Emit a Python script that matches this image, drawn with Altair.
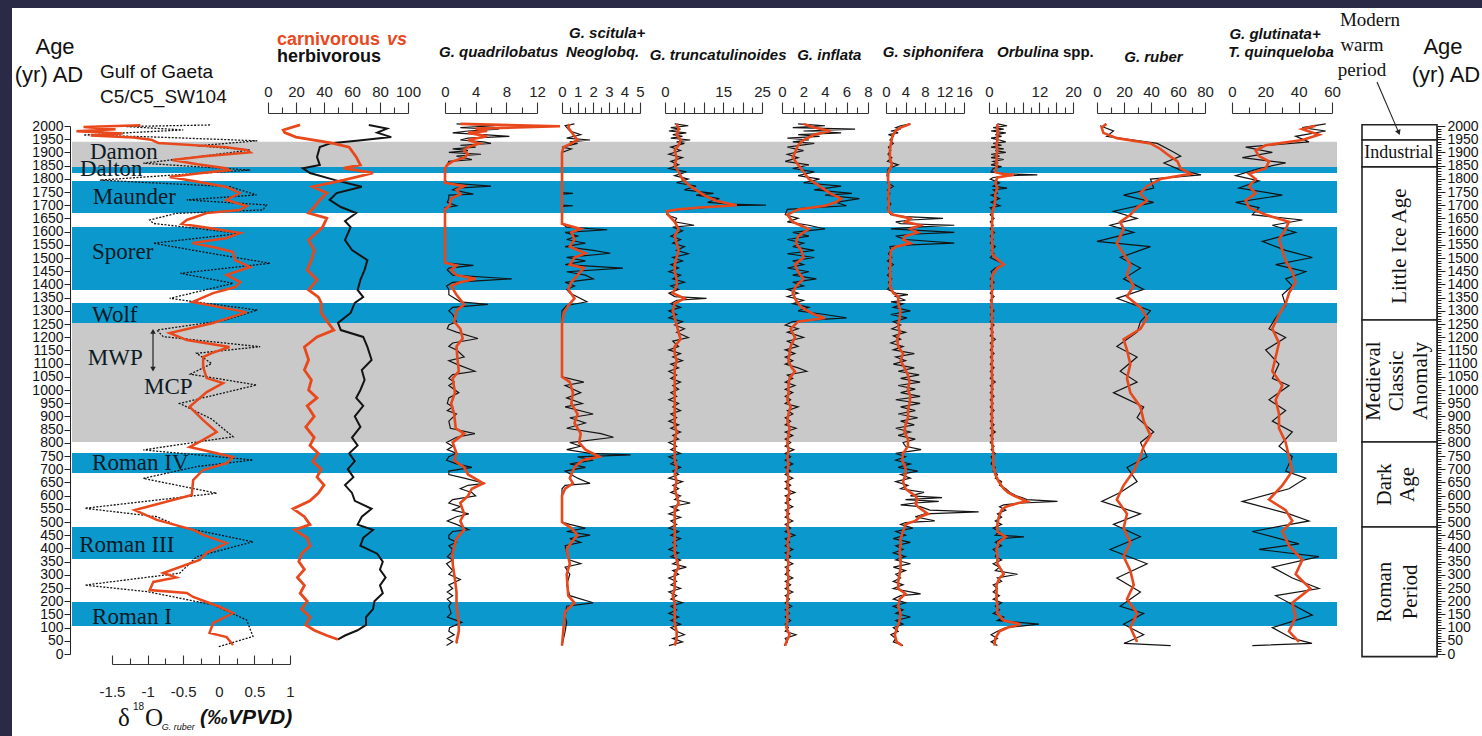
import altair as alt
import pandas as pd

SANS = "Liberation Sans, Arial, Helvetica, sans-serif"
SERIF = "Liberation Serif, Times New Roman, serif"
RED = "#e9481c"
BLACK = "#141414"
BLUE = "#0b98cd"
GREY = "#c9c9c9"
TXT = "#0d1a24"
BG = "#2a2a46"

W, H = 1470, 728
Y_RANGE = [646, 118]          # age 0 -> 2000 inside the plot area

# ---------------- data (age AD, value) ----------------
D18_RED = [(2003,-1.1),(1996,-1.9),(1988,-1.45),(1980,-2.0),(1972,-1.35),(1964,-1.8),(1956,-1.2),(1948,-0.95),
           (1936,-0.85),(1920,0.1),(1909,0.39),(1900,0.44),(1885,-0.2),(1871,-0.65),(1855,-0.3),(1840,0.1),
           (1833,0.15),(1820,-0.3),(1807,-0.69),(1788,-0.27),(1769,0.11),(1746,0.29),(1720,0.11),(1697,0.39),
           (1682,0.29),(1670,-0.17),(1644,-0.45),(1629,-0.52),(1614,-0.13),(1595,0.3),(1575,0.1),(1557,-0.37),
           (1540,-0.05),(1523,0.2),(1492,0.23),(1466,0.44),(1436,0.11),(1409,0.3),(1390,0.23),(1367,-0.08),
           (1333,-0.37),(1295,0.39),(1254,-0.08),(1216,-0.69),(1189,-0.45),(1163,0.15),(1140,-0.1),(1125,-0.22),
           (1087,-0.22),(1045,-0.17),(1026,0.06),(992,-0.17),(936,-0.41),(886,-0.22),(841,-0.03),(811,-0.22),
           (784,-0.41),(746,0.2),(723,0.11),(697,-0.22),(659,-0.36),(602,-0.38),(545,-1.18),(508,-0.87),
           (470,-0.36),(451,-0.22),(420,0.11),(383,-0.17),(356,-0.27),(307,-0.78),(290,-0.6),(273,-0.92),
           (242,-0.97),(231,-0.45),(216,-0.36),(178,0.02),(155,0.2),(117,-0.08),(80,-0.13),(64,0.11),(34,0.2)]
D18_RAW = [(2004,-0.1),(1998,-1.3),(1985,-0.5),(1966,-1.9),(1958,-0.87),(1944,0.54),(1925,-0.3),(1909,0.44),
           (1880,-0.4),(1859,-1.06),(1833,0.44),(1815,-0.6),(1795,-1.67),(1770,0.16),(1739,0.53),(1720,-0.45),
           (1701,0.67),(1682,0.62),(1669,-0.6),(1644,-0.97),(1631,-0.92),(1593,0.3),(1556,-0.92),(1518,-0.12),
           (1480,0.72),(1442,-0.54),(1404,0.2),(1347,-0.69),(1303,0.54),(1265,0.1),(1227,-0.87),(1202,-0.78),
           (1164,0.58),(1139,-0.31),(1100,-0.1),(1060,-0.4),(1019,0.53),(949,-0.55),(890,-0.1),(823,0.2),
           (773,-1.06),(735,0.48),(710,-0.31),(665,-1.06),(609,-0.03),(552,-1.88),(520,-0.87),(482,-0.55),
           (425,0.48),(369,-0.31),(306,-0.55),(261,-1.88),(236,-1.0),(186,-0.08),(129,0.39),(66,0.48),(28,0.0)]

CARN = [(2004,22.9),(1985,10.9),(1975,12),(1958,20),(1935,46),(1920,58),(1883,63),(1852,66),(1840,54),(1822,75),
        (1795,54),(1770,32),(1746,42),(1720,37),(1693,33),(1670,29),(1651,42),(1617,39),(1568,29),(1530,33),
        (1492,31),(1455,28),(1417,35),(1379,29),(1352,36),(1330,38),(1292,38),(1254,43),(1227,47),(1201,35),
        (1163,26),(1114,29),(1076,26),(1038,31),(1000,29),(970,35),(940,28),(900,33),(860,27),(820,33),(790,30),
        (760,36),(730,32),(700,38),(670,35),(640,40),(610,36),(580,30),(550,18),(520,26),(490,30),(470,19),
        (440,28),(410,30),(380,24),(350,22),(320,26),(290,21),(260,26),(230,23),(200,28),(170,24),(140,30),
        (110,27),(90,33),(70,42),(55,50)]
HERB = [(2004,72),(1990,85),(1975,78),(1958,88),(1945,65),(1935,45),(1920,37),(1883,35),(1852,37),(1840,25),
        (1822,30),(1795,48),(1770,67),(1746,49),(1720,44),(1693,52),(1670,63),(1640,55),(1617,59),(1568,55),
        (1530,60),(1492,71),(1455,69),(1417,66),(1379,64),(1352,68),(1330,62),(1292,59),(1254,50),(1227,52),
        (1201,68),(1163,71),(1114,74),(1076,67),(1038,69),(1000,66),(970,63),(940,68),(900,62),(860,66),
        (820,60),(790,64),(760,58),(730,62),(700,57),(670,61),(640,55),(610,60),(580,62),(550,74),(520,67),
        (490,64),(470,75),(440,68),(410,66),(380,78),(350,82),(320,80),(290,84),(260,80),(230,82),(200,76),
        (170,75),(140,70),(110,70),(90,64),(70,55),(55,50)]

QUAD_RAW = [(2008,1.5),(2001,6.5),(1994,2),(1988,7),(1981,3),(1974,1),(1967,5),(1961,8.4),(1954,3),(1947,2),
            (1940,5),(1934,6),(1927,2),(1920,4),(1913,1),(1907,3),(1900,0.5),(1893,4.7),(1886,1.5),(1873,3.5),
            (1866,0.5),(1853,0.3),(1839,0),(1799,0),(1785,0.2),(1772,6),(1765,1.5),(1758,1),(1742,3.7),(1738,0.5),
            (1725,0.5),(1711,0.3),(1698,1.5),(1691,0),(1482,0),(1472,3.7),(1462,0.5),(1455,0.3),(1435,1),
            (1421,8.7),(1408,1),(1394,0.2),(1381,0.5),(1361,0.5),(1334,2),(1324,5.6),(1313,1),(1300,0.5),
            (1286,1),(1259,1.5),(1246,0.5),(1232,0.3),(1219,1.5),(1195,4.3),(1178,1),(1165,0.5),(1152,1.5),
            (1125,2.5),(1111,0.5),(1098,1.5),(1071,3.9),(1058,1),(1044,0.5),(1030,1.2),(1017,0.5),(990,1.8),
            (970,0.5),(949,0.3),(936,1),(922,0.3),(909,1.5),(882,0.5),(855,0.7),(835,3.9),(821,1.5),(801,0.2),
            (787,1),(774,0.3),(760,1.5),(747,0.5),(734,0.2),(720,1.5),(707,3.5),(693,0.5),(680,0.5),(666,2.5),
            (646,5.2),(639,3),(626,2),(612,3.5),(599,4),(585,1),(572,0.5),(558,2),(545,1),(531,3.1),(520,1.5),
            (504,0.3),(491,1.5),(471,3.1),(464,1),(450,0.5),(437,0.5),(423,1.5),(410,0.5),(396,1),(383,0.8),
            (369,0.3),(356,1),(342,0.2),(316,1),(302,0.5),(282,2),(262,0.5),(248,1),(235,0.3),(221,1),(208,0.3),
            (194,0.8),(181,0.5),(154,0.8),(140,0.3),(120,2.2),(100,0.6),(86,0.5),(73,1.2),(59,0.3),(46,1.0),(32,0.2)]
QUAD_SM = [(2008,2),(1999,15),(1990,4),(1981,5.5),(1974,3),(1961,5.5),(1947,3),(1934,4.5),(1920,3),(1907,2.5),
           (1893,3),(1880,2.5),(1866,1),(1853,0.3),(1839,0),(1785,0),(1772,2.5),(1758,1.5),(1742,2),(1725,0.8),
           (1698,0.6),(1684,0),(1482,0),(1472,1.5),(1455,0.8),(1435,1.5),(1421,4),(1408,2),(1394,0.8),(1361,1.5),
           (1324,2.5),(1300,1.5),(1259,1.2),(1232,2),(1195,2.3),(1165,1.5),(1125,1.6),(1071,1.8),(1044,1),
           (990,1.3),(949,0.8),(909,1.2),(855,1.4),(835,2.5),(801,1),(760,1.5),(734,1.2),(707,2.5),(680,3),
           (646,5),(626,3.5),(599,3),(572,2),(531,2.5),(504,2),(471,2.5),(437,1.5),(383,1),(342,1),(282,1.3),
           (235,1.5),(181,1.5),(120,1.8),(86,1.8),(46,1.5),(40,1.6)]

SCIT_RAW = [(2008,0.8),(2001,0.2),(1981,0.5),(1967,1.2),(1954,0.3),(1947,1.8),(1940,0.5),(1934,1.0),(1920,0),
            (1913,0.6),(1900,0),(1748,0),(1745,0.7),(1742,0),(1700,0),(1698,0.7),(1695,0),(1630,0),(1617,0.3),
            (1607,2.9),(1597,0.2),(1583,1.0),(1570,0.3),(1556,1.5),(1543,0.2),(1529,2.0),(1518,3.1),(1502,0.3),
            (1489,1.5),(1475,0.2),(1462,3.9),(1448,0.3),(1435,1.5),(1421,2.0),(1408,0.2),(1394,0.8),(1381,0.3),
            (1367,0.5),(1334,1.6),(1320,0.3),(1300,0),(1050,0),(1030,1.4),(1017,0.2),(990,1.2),(970,0.3),
            (949,1.3),(936,0.2),(909,2.0),(895,0.5),(875,1.5),(855,0.3),(835,2.5),(821,3.3),(801,0.5),(787,1.2),
            (774,0.3),(760,1.8),(754,4.4),(747,1.0),(734,2.0),(720,0.5),(707,1.5),(693,0.2),(666,1.0),(646,1.8),
            (639,0.2),(626,0),(500,0),(491,0.5),(477,1.5),(464,0.3),(450,1.8),(437,0.5),(423,1.2),(410,0.2),
            (383,0.3),(356,0.5),(342,1.2),(329,0.2),(302,0.5),(262,0.3),(221,0.5),(194,2.0),(181,0.3),(140,0.2),
            (120,0.3),(86,0.2),(32,0)]
SCIT_SM = [(2008,0.5),(1994,0.4),(1961,0.8),(1947,1.0),(1934,0.6),(1920,0.1),(1900,0),(1630,0),(1610,1.2),
           (1597,0.6),(1570,0.8),(1543,0.5),(1518,1.5),(1502,0.8),(1475,0.5),(1462,1.4),(1435,1.0),(1408,0.6),
           (1381,0.4),(1347,0.8),(1320,0.4),(1290,0.1),(1250,0),(1050,0),(1030,0.5),(990,0.7),(949,0.6),
           (909,1.0),(875,0.8),(835,1.2),(801,1.1),(774,1.5),(747,2.4),(734,1.3),(707,0.8),(666,0.5),(646,0.7),
           (626,0.2),(600,0),(500,0),(477,0.6),(450,1.0),(423,0.6),(396,0.3),(342,0.5),(302,0.3),(221,0.4),
           (194,0.8),(160,0.2),(100,0.1),(32,0)]

TRUNC_RAW = [(2008,2.5),(2001,6.0),(1994,1.5),(1988,4),(1981,1.0),(1974,5.5),(1967,2),(1961,4.5),(1954,1.5),
             (1947,6.5),(1940,3),(1934,5),(1920,1.5),(1907,4),(1893,1),(1880,4.5),(1866,1.5),(1853,3.5),(1839,1),
             (1826,5.5),(1812,2.5),(1799,6),(1785,3),(1772,8),(1758,5),(1745,12.5),(1738,8),(1725,14),(1711,11),
             (1704,17),(1700,26),(1698,14),(1691,10),(1684,4),(1677,0.5),(1664,0.5),(1650,3),(1637,2.5),
             (1624,7.5),(1617,2),(1603,4.5),(1583,1.5),(1570,4),(1556,2),(1543,5),(1529,3),(1516,6),(1502,2),
             (1489,4.5),(1475,1.5),(1462,3.5),(1448,1.0),(1435,4),(1421,2),(1408,5),(1394,1.5),(1381,3.5),
             (1367,1),(1354,2.5),(1347,10.7),(1340,3),(1327,1.5),(1313,4),(1300,1),(1286,3),(1273,1),(1259,4.5),
             (1246,2.5),(1232,5),(1219,3),(1199,6),(1185,2),(1165,3.5),(1152,1),(1138,4),(1125,2),(1111,4.5),
             (1098,1.5),(1084,3.5),(1071,1),(1057,3),(1044,1.5),(1030,4),(1017,2),(1003,3.5),(990,1.5),(976,3),
             (963,1),(949,3.5),(936,2),(922,4),(909,1.5),(895,3),(882,1),(868,3.5),(855,1.5),(841,4),(828,2),
             (814,3.5),(801,1),(787,3),(774,1.5),(760,4),(747,1),(734,3),(720,1.5),(707,4),(693,2),(680,3.5),
             (666,1),(653,4.5),(639,2),(626,3.5),(612,1.5),(599,4),(585,2.5),(572,6.5),(558,1.5),(545,3.5),
             (531,1),(518,4),(504,1.5),(491,3),(477,1),(464,3.5),(450,1.5),(437,4),(423,2),(410,3),(396,1),
             (383,3.5),(369,1.5),(356,4),(342,2),(329,5.5),(316,2),(302,3.5),(288,1),(275,3),(262,1.5),(248,4),
             (235,1),(221,3),(208,1.5),(194,4.5),(181,1.5),(167,3),(154,1),(140,3.5),(127,1.5),(113,4),(100,1.5),
             (86,3),(73,5),(59,2),(46,4.5),(32,1)]
TRUNC_SM = [(2008,3),(1988,3.5),(1967,3),(1947,4),(1927,3.5),(1907,2.5),(1880,3),(1853,2.5),(1826,3.5),
            (1799,4.5),(1772,6.5),(1758,8),(1738,10),(1718,13),(1704,17),(1700,18.5),(1691,9),(1684,3),
            (1677,0.5),(1664,0.8),(1637,2.5),(1610,3.5),(1583,2.5),(1556,3),(1529,3.5),(1502,3),(1475,2.5),
            (1448,2.5),(1421,3),(1394,3),(1367,2),(1347,5),(1327,2.5),(1300,2),(1273,2.5),(1246,3),(1219,3.5),
            (1192,4),(1165,2.5),(1138,2.5),(1111,3),(1084,2.5),(1057,2.5),(1030,2.5),(1003,2.5),(976,2.5),
            (949,2.5),(922,2.5),(895,2.5),(868,2.5),(841,3),(814,2.5),(787,2.5),(760,2.5),(734,2.5),(707,3),
            (680,2.5),(653,3),(626,2.5),(599,3),(572,3.5),(545,2.5),(518,2.5),(491,2.5),(464,2.5),(437,2.5),
            (410,2.5),(383,2.5),(356,3),(329,3.5),(302,2.5),(275,2.5),(248,2.5),(221,2),(194,2.5),(167,2.5),
            (140,2.5),(113,2.5),(86,3),(59,3),(32,2.5)]

INFL_RAW = [(2008,1.5),(2001,4),(1994,1),(1988,6.8),(1981,2),(1974,5.5),(1967,1.5),(1961,3.5),(1954,0.5),
            (1947,2.5),(1940,1),(1934,3),(1920,0.5),(1907,2),(1893,0.5),(1880,1.5),(1866,0.3),(1853,2.5),
            (1839,1),(1826,3),(1812,1.5),(1799,3.5),(1785,2),(1772,5.5),(1758,3),(1745,6.5),(1738,4),(1725,7.2),
            (1711,5),(1698,6),(1691,3),(1684,0.5),(1664,0.3),(1650,1.5),(1637,0.5),(1624,2.5),(1610,4.0),
            (1597,1),(1583,2.5),(1570,0.5),(1556,2),(1543,1),(1529,3),(1516,0.5),(1502,3.0),(1489,1),(1475,2),
            (1462,0.5),(1448,2.5),(1435,1),(1421,3.2),(1408,1),(1394,2),(1381,0.5),(1367,1.5),(1354,0.5),
            (1340,2),(1327,1),(1313,2.5),(1300,1.5),(1286,4),(1273,6.0),(1266,3),(1259,1),(1246,0.3),(1232,1.5),
            (1219,0.5),(1199,2.0),(1185,0.5),(1165,1.5),(1152,0.3),(1138,1.2),(1125,0.3),(1111,1.0),(1098,0.3),
            (1084,1.5),(1071,2.3),(1057,0.5),(1044,1),(1030,0.3),(1017,1.2),(1003,0.3),(990,1),(976,0.3),
            (963,0.8),(949,0.3),(936,1.5),(922,0.5),(909,1),(895,0.3),(882,0.8),(868,0.3),(855,1.3),(841,0.3),
            (828,1),(814,0.3),(801,0.8),(787,0.3),(774,1.1),(760,0.3),(747,0.8),(734,0.3),(720,1),(707,0.3),
            (693,0.8),(680,0.3),(666,1.0),(653,0.3),(639,0.8),(626,0.3),(612,1.2),(599,0.3),(585,0.8),(572,0.3),
            (558,1),(545,0.3),(531,0.7),(518,0.3),(504,1),(491,0.3),(477,0.8),(464,0.3),(450,1.2),(437,0.3),
            (423,0.7),(410,0.3),(396,1),(383,0.3),(369,0.8),(356,0.3),(342,1),(329,0.3),(316,0.7),(302,0.3),
            (288,1),(275,0.3),(262,0.8),(248,0.3),(235,1),(221,0.3),(208,0.7),(194,0.3),(181,0.9),(167,0.3),
            (154,0.7),(140,0.3),(127,0.8),(113,0.3),(100,0.6),(86,0.3),(73,1.3),(59,0.3),(46,0.5),(32,0.2)]
INFL_SM = [(2008,2),(1994,3),(1981,4.5),(1967,3),(1947,2),(1927,1.5),(1900,1.2),(1880,1),(1853,1.5),(1826,2),
           (1799,2.5),(1772,3.5),(1745,4.5),(1725,5.5),(1711,5),(1698,4),(1684,1.5),(1664,0.5),(1637,1),
           (1610,2.5),(1583,1.5),(1556,1.3),(1529,1.8),(1502,2),(1475,1.2),(1448,1.5),(1421,2),(1394,1.3),
           (1367,1),(1340,1.3),(1313,1.8),(1286,3),(1273,4),(1259,1.5),(1232,0.8),(1199,1.2),(1165,0.8),
           (1138,0.7),(1111,0.6),(1084,0.9),(1071,1.2),(1044,0.7),(1017,0.6),(990,0.6),(963,0.5),(936,0.8),
           (909,0.6),(882,0.5),(855,0.7),(828,0.6),(801,0.5),(774,0.6),(747,0.5),(720,0.6),(693,0.5),(666,0.6),
           (639,0.5),(612,0.7),(585,0.5),(558,0.6),(531,0.5),(504,0.6),(477,0.5),(450,0.7),(423,0.5),(396,0.6),
           (369,0.5),(342,0.6),(316,0.5),(288,0.6),(262,0.5),(235,0.6),(208,0.5),(181,0.5),(154,0.5),(127,0.5),
           (100,0.4),(73,0.7),(46,0.4),(32,0.3)]

SIPH_RAW = [(2008,5.0),(2001,3),(1994,2),(1988,3),(1981,1),(1974,2.5),(1967,0.5),(1961,1.5),(1947,0.8),(1934,1.5),
            (1920,0.5),(1907,1.0),(1893,0.4),(1880,1.2),(1866,0.3),(1853,2.5),(1839,0.5),(1826,0.3),(1812,0.2),
            (1799,0.5),(1785,0.3),(1772,1.5),(1758,0.3),(1745,0.8),(1725,0.3),(1704,1.0),(1691,0.3),(1677,0.5),
            (1664,1.0),(1657,4),(1650,11.7),(1644,5),(1637,2),(1630,3),(1624,14),(1617,6),(1610,1),(1597,14),
            (1590,5),(1583,2),(1570,4),(1556,14),(1550,5),(1543,0.8),(1529,1.0),(1516,0.5),(1502,1.2),(1489,0.3),
            (1475,1.5),(1462,0.5),(1448,1.0),(1435,0.3),(1421,1.2),(1408,0.5),(1394,1.0),(1381,0.3),(1367,2),
            (1361,4.5),(1354,2),(1340,4),(1334,1),(1327,3.5),(1313,1.5),(1300,5.0),(1286,1),(1273,4.3),(1259,1.5),
            (1246,3),(1232,1.2),(1219,4),(1205,1.5),(1192,3),(1178,1),(1165,3.5),(1152,1.5),(1138,5.8),(1125,2),
            (1111,4),(1098,1.5),(1084,5.8),(1071,2.5),(1057,6.8),(1044,3),(1030,7.0),(1017,2.5),(1003,6),(990,3),
            (976,7),(963,2),(949,7.0),(936,3),(922,6),(909,2.5),(895,6.5),(882,3),(868,5.8),(855,2),(841,5),
            (828,2.5),(814,6),(801,3.5),(787,4),(774,7.2),(760,2),(747,4),(734,2),(720,5),(707,2.5),(693,6.5),
            (680,3),(666,5),(653,2),(639,4.5),(626,3),(612,7.8),(599,5),(592,11.5),(585,4),(578,10.8),(572,6),
            (565,3),(558,7),(545,9),(538,19.0),(531,8),(520,6),(504,10),(498,4),(491,3),(477,5.5),(464,2),(450,4),
            (437,1.5),(423,5),(410,2),(396,3.5),(383,1.5),(369,4),(356,2),(342,5),(329,1.5),(316,4),(302,2),
            (288,3),(275,1.5),(262,3.5),(248,1.5),(228,7.1),(221,3),(208,1.5),(194,4),(181,1.5),(167,3.5),
            (154,2),(140,5),(127,2),(113,3.5),(100,1.5),(86,2.5),(73,1),(59,2),(46,1.5),(32,3.5)]
SIPH_SM = [(2008,5),(1994,3),(1981,2),(1961,1.3),(1934,1),(1907,0.8),(1880,0.8),(1853,1.2),(1826,0.5),(1799,0.4),
           (1772,0.7),(1745,0.5),(1704,0.6),(1677,0.5),(1664,1.5),(1650,5),(1637,4),(1624,7),(1610,5),(1597,6.5),
           (1583,4),(1570,3.5),(1556,5),(1543,2),(1529,1),(1502,0.9),(1475,0.9),(1448,0.8),(1421,0.9),(1394,0.8),
           (1367,1.5),(1354,2.5),(1327,2.5),(1300,3),(1273,2.8),(1246,2.5),(1219,2.8),(1192,2.3),(1165,2.5),
           (1138,3.5),(1111,3),(1084,3.8),(1057,4.5),(1030,4.8),(1003,4.5),(976,5),(949,4.8),(922,4.5),(895,4.5),
           (868,4),(841,3.8),(814,4.5),(787,4.5),(760,3.5),(734,3.3),(707,4),(680,4),(653,3.5),(626,4),(612,5),
           (599,6),(585,6.5),(572,6),(558,6.5),(545,7.5),(531,8.6),(520,7),(504,6),(491,4),(464,3.5),(437,3),
           (410,3),(383,2.8),(356,3),(329,3),(302,2.8),(275,2.5),(248,2.5),(228,4),(208,2.8),(181,2.5),(154,3),
           (127,2.8),(100,2.3),(73,1.8),(46,2.2),(32,3.3)]

ORB_RAW = [(2008,2),(2001,4.3),(1994,1),(1988,3.5),(1981,0.5),(1974,4),(1967,1.5),(1961,3),(1954,0.5),(1947,2.5),
           (1940,4),(1934,1),(1927,3),(1920,0.5),(1913,3.5),(1907,1.5),(1900,4),(1893,0.5),(1886,2.5),(1880,0.5),
           (1873,3.5),(1866,1),(1860,2),(1853,0.5),(1846,3),(1839,1),(1826,0.5),(1819,4),(1815,11.5),(1812,5),
           (1805,1),(1799,0.3),(1785,2.5),(1772,1),(1765,4.3),(1758,1),(1745,2),(1738,0.5),(1725,2.5),(1711,0.5),
           (1698,2.6),(1691,0.3),(1677,1),(1664,0.3),(1650,1.2),(1637,0.3),(1624,1),(1610,0.3),(1597,1.3),
           (1583,0.3),(1570,1),(1556,0.3),(1543,1.5),(1529,0.5),(1516,1.2),(1502,0.3),(1489,2),(1475,3.5),
           (1462,1.5),(1448,0.5),(1435,1),(1421,0.3),(1408,1.2),(1394,0.3),(1381,1),(1367,0.3),(1354,1.2),
           (1340,0.3),(1327,0.8),(1313,0.3),(1300,1.2),(1286,0.3),(1273,1),(1259,0.3),(1246,1.2),(1232,0.3),
           (1219,1),(1205,0.3),(1192,1.5),(1178,0.3),(1165,1),(1152,0.3),(1138,1.2),(1125,0.3),(1111,1),
           (1098,0.3),(1084,1.2),(1071,0.3),(1057,1),(1044,0.3),(1030,1.5),(1017,0.3),(1003,1),(990,0.3),
           (976,1.2),(963,0.3),(949,1),(936,0.3),(922,1.2),(909,0.3),(895,1),(882,0.3),(868,1.2),(855,0.3),
           (841,1.5),(828,0.3),(814,1),(801,0.3),(787,1.2),(774,0.5),(760,1.5),(747,0.5),(734,1),(720,0.5),
           (707,1.5),(693,1),(680,2),(666,1.5),(653,3),(639,2.5),(626,4),(612,5),(599,6.5),(592,8),(585,9),
           (578,16.3),(572,8),(565,3.5),(558,2.5),(545,4),(531,2),(518,3),(504,1.5),(491,3),(477,1),(464,2.5),
           (450,1.5),(444,8.3),(437,3),(423,1.5),(410,3),(396,1),(383,2),(369,1.5),(356,3),(342,1),(329,2.5),
           (316,1.5),(302,6.8),(288,2),(275,3),(262,1),(248,2),(235,1),(221,2.5),(208,1),(194,3),(181,1.5),
           (167,2.5),(154,1),(140,3.5),(127,2),(113,11.9),(100,4),(86,2),(73,0.5),(59,2),(46,0.5),(32,2)]
ORB_SM = [(2008,2),(1988,2),(1967,2),(1947,2),(1927,1.8),(1907,2),(1886,1.8),(1866,1.8),(1846,1.8),(1826,1.5),
          (1819,3),(1815,5.9),(1805,2),(1785,1.5),(1765,2),(1745,1.5),(1725,1.5),(1698,1.3),(1677,0.8),(1650,0.8),
          (1624,0.7),(1597,0.8),(1570,0.7),(1543,0.8),(1516,0.8),(1502,1.5),(1489,2.5),(1475,3.5),(1462,2),
          (1435,0.8),(1408,0.7),(1381,0.7),(1354,0.7),(1327,0.6),(1300,0.7),(1273,0.7),(1246,0.7),(1219,0.7),
          (1192,0.8),(1165,0.7),(1138,0.7),(1111,0.7),(1084,0.7),(1057,0.7),(1030,0.8),(1003,0.7),(976,0.7),
          (949,0.7),(922,0.7),(895,0.7),(868,0.7),(841,0.8),(814,0.7),(787,0.8),(760,1),(734,1),(707,1.1),
          (680,1.5),(653,2.3),(626,3.5),(612,4.5),(599,6),(585,8),(578,9),(572,7),(558,4),(545,3),(518,2.3),
          (491,2),(464,2),(444,4),(423,2.3),(396,1.8),(369,2),(342,2),(316,3),(302,3.5),(288,2.5),(262,1.8),
          (235,1.8),(208,1.8),(181,2),(154,2),(127,3.5),(113,7.5),(100,4.5),(86,2.5),(59,1.5),(32,1.3)]

RUB_SM = [(2008,7),(1994,3.5),(1974,4.7),(1954,14.7),(1934,39.6),(1913,47),(1893,52),(1866,59.6),(1839,62),
          (1819,69.5),(1799,47),(1772,37),(1745,32),(1718,37),(1691,29.7),(1664,24.7),(1637,17.2),(1610,19.7),
          (1583,17.2),(1556,14.7),(1516,19.7),(1475,24.7),(1435,22.2),(1394,27.2),(1354,22.2),(1313,32.2),
          (1273,37.1),(1232,32.2),(1192,19.7),(1152,22.2),(1098,24.7),(1044,22.2),(990,24.7),(936,32.2),
          (882,34.6),(828,39.6),(787,34.6),(747,32.2),(693,27.2),(639,19.7),(585,14.7),(531,22.2),(477,19.7),
          (423,24.7),(369,19.7),(316,24.7),(262,27.2),(208,22.2),(154,29.7),(100,24.7),(46,29.7)]
RUB_RAW = [(2001,2.2),(1981,12.2),(1961,7.2),(1934,44.6),(1907,54.6),(1886,62),(1860,49.6),(1833,62),(1815,77),
           (1799,39.6),(1765,42),(1738,19.7),(1711,42),(1677,12.2),(1650,29.7),(1624,9.7),(1597,27.2),(1563,0),
           (1543,39.6),(1502,17.2),(1462,32.2),(1421,19.7),(1381,34.6),(1347,14.7),(1300,39.6),(1259,32.2),
           (1219,29.7),(1165,14.7),(1125,29.7),(1071,17.2),(1030,29.7),(990,12.2),(936,34.6),(895,29.7),
           (841,42),(801,32.2),(747,37.1),(707,22.2),(653,29.7),(612,17.2),(578,3.5),(531,32.2),(491,12.2),
           (444,32.2),(396,9.7),(342,37.1),(288,14.7),(235,32.2),(181,17.2),(154,34.6),(113,19.7),(73,34.6),
           (40,20),(32,54.6)]

GLUT_SM = [(2001,50.2),(1988,42.2),(1967,52.2),(1947,42.2),(1927,20.2),(1907,14.2),(1886,16.2),(1866,22.2),
           (1839,20.2),(1819,10.2),(1799,14.2),(1772,10.2),(1745,14.2),(1718,8.2),(1691,10.2),(1664,20.2),
           (1637,34.2),(1610,32.2),(1570,28.2),(1529,30.2),(1489,32.2),(1448,36.2),(1408,38.2),(1367,34.2),
           (1327,32.2),(1286,28.2),(1232,24.2),(1178,28.2),(1125,26.2),(1071,24.2),(1017,30.2),(963,26.2),
           (909,28.2),(855,28.2),(801,32.2),(747,34.2),(693,36.2),(639,30.2),(585,22.2),(545,32.2),(504,36.2),
           (464,30.2),(410,34.2),(356,42.2),(302,38.2),(248,47),(194,36.2),(140,38.2),(86,34.2),(46,40.2)]
GLUT_RAW = [(2008,56.2),(1994,42.2),(1981,56.2),(1961,38.2),(1940,46.2),(1920,8.2),(1900,24.2),(1880,6.2),
            (1860,32.2),(1839,16.2),(1812,2.2),(1792,16.2),(1765,4.2),(1738,30.2),(1711,2.2),(1691,16.2),
            (1664,12.2),(1644,42.2),(1624,24.2),(1597,38.2),(1563,18.2),(1529,32.2),(1502,48.2),(1475,26.2),
            (1448,44.2),(1421,32.2),(1394,36.2),(1361,30.2),(1320,32.2),(1273,26.2),(1232,22.2),(1199,32.2),
            (1152,20.2),(1098,28.2),(1044,24.2),(1017,34.2),(963,22.2),(922,32.2),(882,24.2),(841,36.2),
            (787,28.2),(747,36.2),(693,32.2),(666,44.2),(626,34.2),(578,6.2),(531,34.2),(504,46.2),(464,12.2),
            (417,40.2),(396,16.2),(369,52.2),(329,24.2),(288,36.2),(248,52.2),(221,26.2),(181,38.2),(147,48.2),
            (100,24.2),(59,36.2),(40,48),(32,12.2)]

# climatic events (name, from, to, colour)
BANDS = [("Damon", 1845, 1940, "grey"), ("Dalton", 1822, 1845, "blue"), ("Maunder", 1670, 1792, "blue"),
         ("Sporer", 1379, 1617, "blue"), ("Wolf", 1254, 1330, "blue"), ("MWP/MCP", 803, 1254, "grey"),
         ("Roman IV", 686, 761, "blue"), ("Roman III", 360, 481, "blue"), ("Roman I", 106, 197, "blue")]
# band labels: (text, x in d18O units, age)
BAND_LABELS = [("Damon", -1.81, 1900), ("Dalton", -1.95, 1836), ("Maunder", -1.77, 1731), ("Sporer", -1.78, 1523),
               ("Wolf", -1.78, 1284), ("MWP", -1.84, 1121), ("MCP", -1.05, 1011), ("Roman IV", -1.78, 723),
               ("Roman III", -1.96, 413), ("Roman I", -1.78, 140)]
# historical periods (from, to)
PERIODS = [("Modern warm period", 1947, 2005), ("Industrial", 1845, 1947), ("Little Ice Age", 1265, 1845),
           ("Medieval Classic Anomaly", 803, 1265), ("Dark Age", 481, 803), ("Roman Period", -10, 481)]


# ---------------- helpers ----------------
def yscale():
    return alt.Scale(domain=[0, 2000], range=Y_RANGE, nice=False, zero=False)


def frame(pairs):
    return pd.DataFrame(pairs, columns=["age", "v"])


def top_axis(values, major_test, shown, offset=-105, tmaj=11, tmin=6, pad=3, baseline=None):
    kw = dict(orient="top", offset=offset, values=values, title=None, grid=False,
              domainColor="#333", tickColor="#333", domainWidth=1.1, tickWidth=1.1,
              tickSize={"condition": {"test": major_test, "value": tmaj}, "value": tmin},
              labelExpr=f"indexof({shown}, datum.value) >= 0 ? replace(datum.label, '\u2212', '-') : ''",
              labelFont=SANS, labelFontSize=15, labelColor="#222", labelPadding=pad,
              labelOverlap=False, labelFlush=False, format=".2~f")
    if baseline:
        kw["labelBaseline"] = baseline
    return alt.Axis(**kw)


def texts(rows, xenc, yenc, **mark):
    d = pd.DataFrame(rows, columns=["label", "v", "age"])
    return alt.Chart(d).mark_text(**mark).encode(x=xenc, y=yenc, text="label:N")


def panel(raw, smooth, domain, rng, axis, headers, raw_dash=None, raw_w=1.2, sm_w=2.6):
    xs = alt.Scale(domain=domain, range=rng, nice=False, zero=False)
    xe = alt.X("v:Q", scale=xs, axis=axis)
    ye = alt.Y("age:Q", scale=yscale(), axis=None)
    mk = dict(color=BLACK, strokeWidth=raw_w)
    if raw_dash:
        mk["strokeDash"] = raw_dash
    layers = []
    for rows, mark in headers:
        layers.append(texts(rows, xe, ye, **mark))
    layers.append(alt.Chart(frame(raw)).mark_line(**mk).encode(x=xe, y=ye, order="age:Q"))
    layers.append(alt.Chart(frame(smooth)).mark_line(color=RED, strokeWidth=sm_w).encode(x=xe, y=ye, order="age:Q"))
    return alt.layer(*layers), xe, ye


HEAD = dict(font=SANS, fontSize=15, fontWeight="bold", fontStyle="italic", color="#111", baseline="middle")

# ---------------- bands + left axis ----------------
band_df = pd.DataFrame([(n, a, b, c, 0, 1) for n, a, b, c in BANDS], columns=["name", "a0", "a1", "kind", "x0", "x1"])
band_x = alt.Scale(domain=[0, 1], range=[60, 1325], nice=False, zero=False)
left_axis = alt.Axis(orient="left", offset=-58, values=list(range(0, 2001, 50)), title=None, grid=False,
                     format="d", labelFont=SANS, labelFontSize=14, labelColor="#111", labelPadding=1,
                     tickSize=6, tickColor="#222", domainColor="#222", labelOverlap=False, labelFlush=False)
bands = alt.Chart(band_df).mark_rect().encode(
    x=alt.X("x0:Q", scale=band_x, axis=None), x2="x1:Q",
    y=alt.Y("a0:Q", scale=yscale(), axis=left_axis), y2="a1:Q",
    color=alt.Color("kind:N", scale=alt.Scale(domain=["blue", "grey"], range=[BLUE, GREY]), legend=None))

# ---------------- d18O panel ----------------
d18_axis = top_axis([x / 4 for x in range(-6, 5)], "datum.value % 0.5 === 0", [-1.5, -1, -0.5, 0, 0.5, 1],
                    offset=-656, tmaj=9, tmin=6, pad=-36, baseline="middle")
d18, d18x, d18y = panel(D18_RAW, D18_RED, [-1.5, 1], [100, 278], d18_axis, [], raw_dash=[2, 1.5], raw_w=1.3, sm_w=2.5)
d18_extra = [
    texts(BAND_LABELS, d18x, d18y, font=SERIF, fontSize=23, color=TXT, align="left", baseline="middle"),
    texts([("Age", -2.30, 2299)], d18x, d18y, font=SANS, fontSize=22, color="#111", baseline="middle"),
    texts([("(yr) AD", -2.385, 2193)], d18x, d18y, font=SANS, fontSize=22, color="#111", baseline="middle"),
    texts([("Gulf of Gaeta", -1.669, 2205), ("C5/C5_SW104", -1.669, 2110)], d18x, d18y,
          font=SANS, fontSize=19, color="#111", align="left", baseline="middle"),
    texts([("\u03b4", -1.416, -242), ("O", -1.037, -242)], d18x, d18y, font=SERIF, fontSize=25, color="#111",
          align="left", baseline="middle"),
    texts([("18", -1.205, -200)], d18x, d18y, font=SANS, fontSize=10, color="#111", align="left", baseline="middle"),
    texts([("G. ruber", -0.80, -277)], d18x, d18y, font=SANS, fontSize=9, fontStyle="italic", color="#111",
          align="left", baseline="middle"),
    texts([("(\u2030VPVD)", -0.264, -242)], d18x, d18y, font=SANS, fontSize=21, fontStyle="italic",
          fontWeight="bold", color="#111", align="left", baseline="middle"),
]
mwp_df = pd.DataFrame({"v": [-0.924], "age": [1225], "age2": [1076]})
mwp_rule = alt.Chart(mwp_df).mark_rule(color="#222", strokeWidth=1.2).encode(x=d18x, y=d18y, y2="age2:Q")
mwp_up = alt.Chart(pd.DataFrame({"v": [-0.924], "age": [1222]})).mark_point(
    shape="triangle-up", filled=True, size=30, color="#222", opacity=1).encode(x=d18x, y=d18y)
mwp_dn = alt.Chart(pd.DataFrame({"v": [-0.924], "age": [1079]})).mark_point(
    shape="triangle-down", filled=True, size=30, color="#222", opacity=1).encode(x=d18x, y=d18y)
d18_all = alt.layer(*d18_extra, d18, mwp_rule, mwp_up, mwp_dn)

# ---------------- other panels ----------------
specs = [
    (HERB, CARN, [0, 100], [256, 396],
     top_axis(list(range(0, 101, 10)), "datum.value % 20 === 0", [0, 20, 40, 60, 80, 100]),
     [([("carnivorous", 6.4, 2326)], dict(font=SANS, fontSize=18, fontWeight="bold", color=RED, align="left", baseline="middle")),
      ([("vs", 85.0, 2326)], dict(font=SANS, fontSize=18, fontWeight="bold", fontStyle="italic", color=RED, align="left", baseline="middle")),
      ([("herbivorous", 6.4, 2261)], dict(font=SANS, fontSize=18, fontWeight="bold", color="#111", align="left", baseline="middle"))],
     None, 2.0, 2.8),
    (QUAD_RAW, QUAD_SM, [0, 12], [433, 525],
     top_axis(list(range(0, 13, 2)), "datum.value % 4 === 0", [0, 4, 8, 12]),
     [([("G. quadrilobatus", 7.0, 2280)], HEAD)]),
    (SCIT_RAW, SCIT_SM, [0, 5], [550, 628],
     top_axis([x / 2 for x in range(0, 11)], "datum.value % 1 === 0", [0, 1, 2, 3, 4, 5]),
     [([("G. scitula+", 2.9, 2352), ("Neoglobq.", 2.6, 2280)], HEAD)]),
    (TRUNC_RAW, TRUNC_SM, [0, 25], [653, 750],
     top_axis([x * 2.5 for x in range(0, 11)], "datum.value % 5 === 0", [0, 15, 25]),
     [([("G. truncatulinoides", 13.7, 2269)], HEAD)]),
    (INFL_RAW, INFL_SM, [0, 8], [770, 856],
     top_axis(list(range(0, 9)), "datum.value % 2 === 0", [0, 2, 4, 6, 8]),
     [([("G. inflata", 4.4, 2269)], HEAD)]),
    (SIPH_RAW, SIPH_SM, [0, 16], [874, 952],
     top_axis(list(range(0, 17, 2)), "datum.value % 4 === 0", [0, 4, 8, 12, 16]),
     [([("G. siphonifera", 9.7, 2280)], HEAD)]),
    (ORB_RAW, ORB_SM, [0, 20], [977, 1061],
     top_axis(list(range(0, 21, 2)), "datum.value % 4 === 0", [0, 12, 20]),
     [([("Orbulina", 16.6, 2280)], dict(HEAD, align="right")),
      ([("spp.", 17.6, 2280)], dict(font=SANS, fontSize=15, fontWeight="bold", color="#111", align="left", baseline="middle"))]),
    (RUB_RAW, RUB_SM, [0, 80], [1085, 1193],
     top_axis(list(range(0, 81, 10)), "datum.value % 20 === 0", [0, 20, 40, 60, 80]),
     [([("G. ruber", 41.8, 2261)], HEAD)]),
    (GLUT_RAW, GLUT_SM, [0, 60], [1220, 1320],
     top_axis(list(range(0, 61, 10)), "datum.value % 20 === 0", [0, 20, 40, 60]),
     [([("G. glutinata+", 25.8, 2349), ("T. quinqueloba", 29.4, 2280)], HEAD)]),
]
panels = [panel(*s)[0] for s in specs]

# ---------------- period column + right axis ----------------
per_df = pd.DataFrame([(n, a, b, 0, 1) for n, a, b in PERIODS], columns=["name", "a0", "a1", "x0", "x1"])
per_x = alt.Scale(domain=[0, 1], range=[1350, 1425], nice=False, zero=False)
right_axis = alt.Axis(orient="right", offset=-45, values=list(range(0, 2001, 10)), title=None, grid=False,
                      format="d", labelFont=SANS, labelFontSize=14, labelColor="#111", labelPadding=2,
                      tickSize={"condition": {"test": "datum.value % 50 === 0", "value": 8}, "value": 4},
                      labelExpr="datum.value % 50 === 0 ? datum.label : ''",
                      tickColor="#222", domainColor="#222", labelOverlap=False, labelFlush=False)
px = alt.X("v:Q", scale=per_x, axis=None)
py = alt.Y("age:Q", scale=yscale(), axis=right_axis)
boxes = alt.Chart(per_df).mark_rect(fill="white", stroke="#222", strokeWidth=1.6).encode(
    x=alt.X("x0:Q", scale=per_x, axis=None), x2="x1:Q",
    y=alt.Y("a0:Q", scale=yscale(), axis=right_axis), y2="a1:Q")
per_texts = [
    texts([("Industrial", 0.49, 1898)], px, py, font=SERIF, fontSize=18, color="#111", baseline="middle"),
    texts([("Little Ice Age", 0.507, 1545), ("Medieval", 0.16, 1034), ("Classic", 0.467, 1034),
           ("Anomaly", 0.787, 1034), ("Dark", 0.307, 642), ("Age", 0.613, 642), ("Roman", 0.307, 235),
           ("Period", 0.653, 235)], px, py, font=SERIF, fontSize=21, color="#111", angle=270, baseline="middle"),
    texts([("Modern", 0.107, 2402), ("warm", 0.0, 2307), ("period", 0.0, 2212)], px, py,
          font=SERIF, fontSize=19, color="#111", baseline="middle"),
    texts([("Age", 1.08, 2299), ("(yr) AD", 1.12, 2193)], px, py, font=SANS, fontSize=22, color="#111",
          baseline="middle"),
]
arrow = alt.Chart(pd.DataFrame({"v": [0.2], "v2": [0.49], "age": [2167], "age2": [1975]})).mark_rule(
    color="#222", strokeWidth=1.1).encode(x=px, x2="v2:Q", y=py, y2="age2:Q")
arrow_head = alt.Chart(pd.DataFrame({"v": [0.49], "age": [1975]})).mark_point(
    shape="triangle-down", filled=True, size=35, angle=338, color="#222", opacity=1).encode(x=px, y=py)
period_layer = alt.layer(boxes, *per_texts, arrow, arrow_head)

chart = alt.layer(bands, d18_all, *panels, period_layer).resolve_scale(
    x="independent", y="independent").resolve_axis(x="independent", y="independent").properties(
    width=W, height=H, padding={"left": 12, "top": 8, "right": 0, "bottom": 0},
    autosize=alt.AutoSizeParams(type="none"), background=BG).configure_view(fill="white", stroke=None)

chart.save("out.html", embed_options={"renderer": "svg", "actions": False})
